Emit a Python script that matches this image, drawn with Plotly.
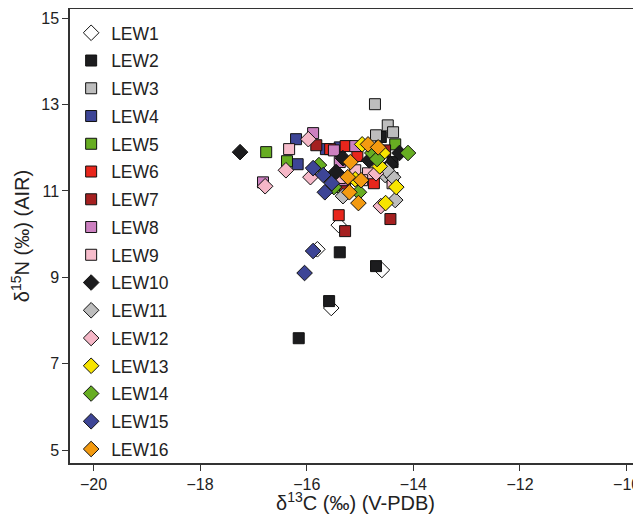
import plotly.graph_objects as go

names = ["LEW1", "LEW2", "LEW3", "LEW4", "LEW5", "LEW6", "LEW7", "LEW8",
         "LEW9", "LEW10", "LEW11", "LEW12", "LEW13", "LEW14", "LEW15", "LEW16"]

lew1_x = [-15.40, -15.80, -14.59, -15.54]
lew1_y = [10.21, 9.65, 9.17, 8.29]
lew2_x = [-14.61, -15.38, -14.70, -15.58, -16.15, -14.39]
lew2_y = [12.25, 9.58, 9.26, 8.45, 7.59, 11.67]
lew3_x = [-14.72, -14.48, -14.38, -14.70, -14.39]
lew3_y = [13.01, 12.52, 12.36, 12.29, 11.30]
lew4_x = [-16.20, -16.17, -15.64, -15.38]
lew4_y = [12.20, 11.62, 11.97, 12.01]
lew5_x = [-16.76, -16.37, -14.34, -15.47, -14.76]
lew5_y = [11.90, 11.69, 12.08, 11.09, 11.90]
lew6_x = [-15.56, -15.27, -15.05, -14.74, -15.40]
lew6_y = [11.97, 12.04, 11.81, 11.18, 10.44]
lew7_x = [-15.82, -15.28, -14.43, -15.28, -14.53]
lew7_y = [12.06, 10.07, 10.35, 11.06, 11.94]
lew8_x = [-15.88, -15.49, -15.09, -16.82, -15.38, -15.34]
lew8_y = [12.34, 11.94, 12.04, 11.20, 11.67, 11.25]
lew9_x = [-16.33, -15.09, -14.85, -14.96, -14.39, -15.38]
lew9_y = [11.97, 11.48, 11.41, 11.25, 11.18, 11.30]
lew10_x = [-17.25, -15.32, -15.45, -14.83, -14.43, -14.26]
lew10_y = [11.90, 11.76, 11.44, 11.71, 11.62, 11.88]
lew11_x = [-14.53, -14.38, -14.34, -15.32, -14.50]
lew11_y = [11.37, 11.32, 10.79, 10.88, 11.48]
lew12_x = [-15.97, -16.39, -16.78, -15.93, -14.70, -14.61]
lew12_y = [12.20, 11.48, 11.11, 11.32, 11.41, 10.65]
lew13_x = [-14.96, -14.57, -14.63, -14.32, -14.52, -15.09]
lew13_y = [12.08, 11.88, 11.57, 11.09, 10.72, 11.27]
lew14_x = [-15.77, -15.49, -15.02, -14.77, -14.68, -14.10]
lew14_y = [11.60, 11.09, 10.97, 11.88, 11.74, 11.88]
lew15_x = [-15.88, -15.69, -15.66, -15.53, -15.88, -16.04]
lew15_y = [11.53, 11.37, 10.97, 11.18, 9.61, 9.10]
lew16_x = [-14.85, -14.66, -15.18, -15.23, -15.20, -15.03, -14.98]
lew16_y = [12.08, 12.01, 11.67, 11.32, 10.97, 10.72, 11.25]

xs = [lew1_x, lew2_x, lew3_x, lew4_x, lew5_x, lew6_x, lew7_x, lew8_x,
      lew9_x, lew10_x, lew11_x, lew12_x, lew13_x, lew14_x, lew15_x, lew16_x]
ys = [lew1_y, lew2_y, lew3_y, lew4_y, lew5_y, lew6_y, lew7_y, lew8_y,
      lew9_y, lew10_y, lew11_y, lew12_y, lew13_y, lew14_y, lew15_y, lew16_y]

colors = ["#ffffff", "#1c1c1e", "#bdbdbd", "#3d4596", "#67ad22", "#e8261c",
          "#a52020", "#cc80c0", "#f6bccb", "#1c1c1e", "#bdbdbd", "#f5b7c7",
          "#f7e400", "#67ad22", "#3d4596", "#f39a10"]
symbols = ["diamond"] + ["square"] * 8 + ["diamond"] * 7

x_ticks = [-20, -18, -16, -14, -12, -10]
y_ticks = [5, 7, 9, 11, 13, 15]

font = "Arial, Liberation Sans, sans-serif"

fig = go.Figure()
for i, n in enumerate(names):
    sym = symbols[i]
    fig.add_trace(go.Scatter(
        x=xs[i], y=ys[i], mode="markers", name=n, legendgroup=n,
        marker=dict(symbol=sym, size=12 if sym == "diamond" else 11,
                    color=colors[i], line=dict(color="#111111", width=1)),
    ))

fig.update_layout(
    width=633, height=506,
    margin=dict(l=62, r=0, t=1, b=51),
    plot_bgcolor="white", paper_bgcolor="white",
    font=dict(family=font, size=16, color="#222222"),
    showlegend=True,
    legend=dict(x=0.002, y=0.987, xanchor="left", yanchor="top",
                bgcolor="rgba(0,0,0,0)", font=dict(size=17.5, color="#222222"),
                tracegroupgap=2, itemwidth=30),
    xaxis=dict(range=[-20.44, -9.73], tickvals=x_ticks,
               ticktext=["\u2212" + str(abs(v)) for v in x_ticks],
               ticklabeloverflow="allow",
               showgrid=False, zeroline=False, showline=True, linecolor="#333333",
               linewidth=1.5, mirror=True, ticks="outside", ticklen=6,
               tickcolor="#333333", tickfont=dict(size=16),
               title=dict(text="\u03b4<sup>13</sup>C (\u2030) (V-PDB)",
                          font=dict(size=20), standoff=7)),
    yaxis=dict(range=[4.70, 15.215], tickvals=y_ticks,
               showgrid=False, zeroline=False, showline=True, linecolor="#333333",
               linewidth=1.5, ticks="outside", ticklen=6, tickcolor="#333333",
               tickfont=dict(size=16),
               title=dict(text="\u03b4<sup>15</sup>N (\u2030) (AIR)",
                          font=dict(size=20), standoff=10)),
)

fig.write_html("out.html")
